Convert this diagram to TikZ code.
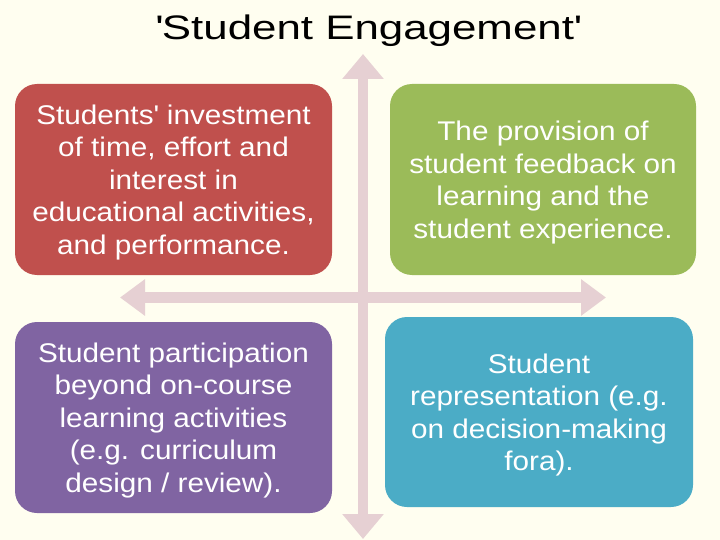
\documentclass[tikz,border=0pt]{standalone}
\usepackage{fontspec}
\setmainfont[FakeStretch=1.1]{Liberation Sans}
\newfontfamily\titlefont[FakeStretch=1.29]{Liberation Sans}
\usetikzlibrary{arrows.meta}
\definecolor{bgc}{HTML}{FFFEF0}
\definecolor{arrowc}{HTML}{E6D0D3}
\definecolor{redc}{HTML}{C0504D}
\definecolor{greenc}{HTML}{9BBB59}
\definecolor{purplec}{HTML}{8064A2}
\definecolor{bluec}{HTML}{4BACC6}
\begin{document}
\begin{tikzpicture}[x=1pt,y=-1pt,
  quad/.style={fill=#1, draw=none, rounded corners=22pt, inner sep=0pt},
  quadtext/.style={text=white, align=center, inner sep=0pt,
    font=\fontsize{27}{32.5}\selectfont},
  crossarrow/.style={draw=arrowc, line width=#1}
]
\fill[bgc] (0,0) rectangle (720,540);
\useasboundingbox (0,0) rectangle (720,540);
% cross arrows
\coordinate (vtop) at (363,54);
\coordinate (vbot) at (363,539);
\coordinate (hl) at (120,297.5);
\coordinate (hr) at (606,297.5);
\draw[crossarrow=10pt, {Triangle[width=40pt,length=25pt]}-{Triangle[width=40pt,length=25pt]}] (vtop) -- (vbot);
\draw[crossarrow=11pt, {Triangle[width=35pt,length=25pt]}-{Triangle[width=35pt,length=25pt]}] (hl) -- (hr);
% title
\node[anchor=base, inner sep=0pt, font=\titlefont\fontsize{34}{40}\selectfont] (title) at (368,39.5) {\textquotesingle Student Engagement\textquotesingle};
% boxes
\node[quad=redc, minimum width=317pt, minimum height=191pt] (red) at (173.5,179.5) {};
\node[quad=greenc, minimum width=306pt, minimum height=191pt] (green) at (543,179.5) {};
\node[quad=purplec, minimum width=317pt, minimum height=191pt] (purple) at (173.5,417.5) {};
\node[quad=bluec, minimum width=308pt, minimum height=190pt] (blue) at (539,412) {};
% texts
\node[quadtext] (redtext) at ([yshift=-3pt]red.center)
  {Students\textquotesingle{} investment\\of time, effort and\\interest in\\educational activities,\\and performance.};
\node[quadtext] (greentext) at ([yshift=-3pt]green.center)
  {The provision of\\student feedback on\\learning and the\\student experience.};
\node[quadtext] (purpletext) at ([yshift=-3pt]purple.center)
  {Student participation\\beyond on-course\\learning activities\\(e.g. curriculum\\design / review).};
\node[quadtext] (bluetext) at ([yshift=-3pt]blue.center)
  {Student\\representation (e.g.\\on decision-making\\fora).};
\end{tikzpicture}
\end{document}
